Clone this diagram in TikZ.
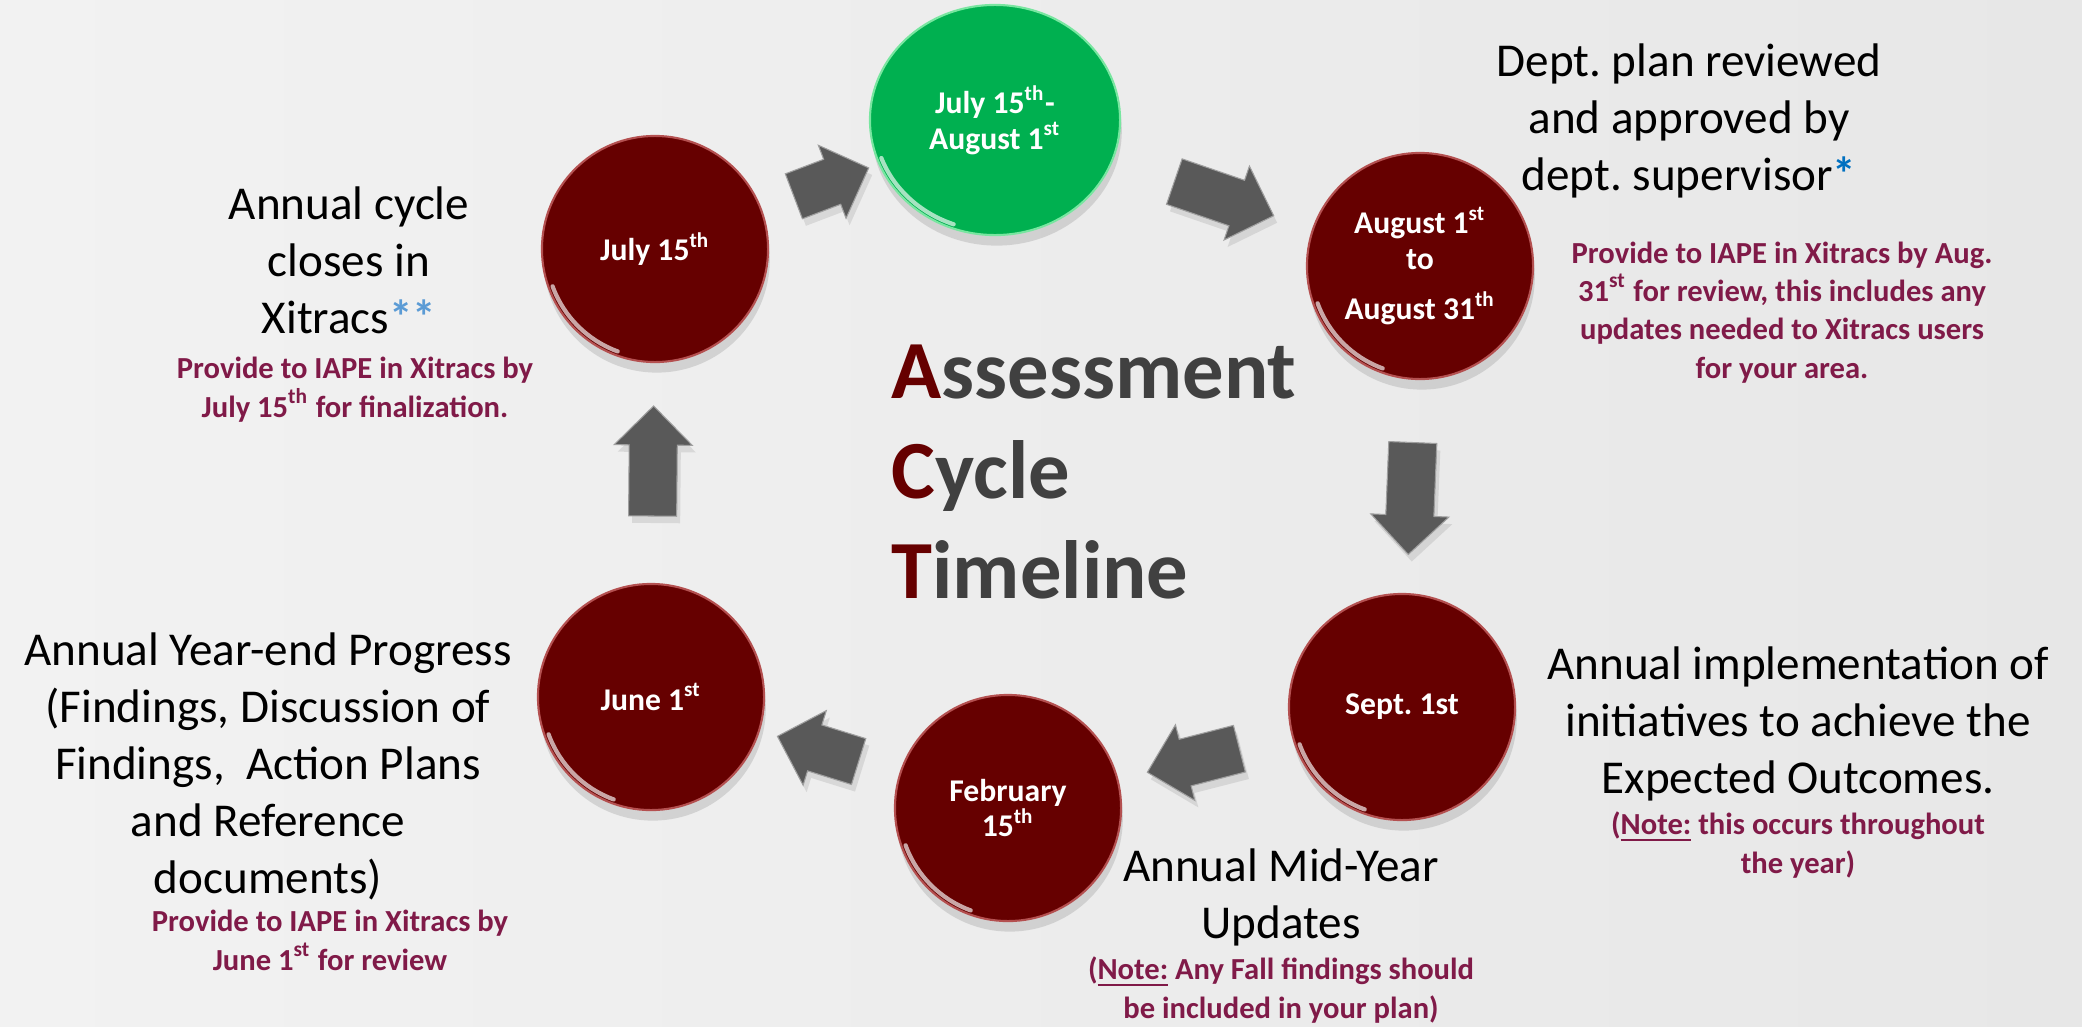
\documentclass[tikz,border=0pt]{standalone}
\usepackage{fontspec}
\setmainfont{Carlito}
\frenchspacing
\usetikzlibrary{shapes.arrows,shapes.geometric,shadows,positioning}

\definecolor{bgleft}{RGB}{242,242,242}
\definecolor{bgright}{RGB}{231,231,231}
\definecolor{datered}{RGB}{102,0,0}
\definecolor{rimred}{RGB}{180,80,80}
\definecolor{nowgreen}{RGB}{0,176,80}
\definecolor{nowrim}{RGB}{120,230,160}
\definecolor{arrowgray}{RGB}{89,89,89}
\definecolor{notepurple}{RGB}{128,26,72}
\definecolor{titlegray}{RGB}{64,64,64}
\definecolor{starblue}{RGB}{0,112,192}
\definecolor{starlight}{RGB}{91,155,213}

\newcommand{\descfont}{\fontsize{13.4}{16.2}\selectfont}
\newcommand{\notefont}{\fontsize{8.7}{10.9}\selectfont\bfseries}
\newcommand{\datefont}{\fontsize{9}{10.2}\selectfont\bfseries}
\newcommand{\titlefont}{\fontsize{23.5}{28.3}\selectfont\bfseries}

\tikzset{
  datebubble/.style={circle, fill=datered, draw=rimred, line width=0.6pt,
    minimum size=2.26cm, align=center, text=white, font=\datefont,
    drop shadow={opacity=0.25, shadow xshift=0.5pt, shadow yshift=-3pt}},
  nowbubble/.style={ellipse, fill=nowgreen, draw=nowrim, line width=0.6pt,
    minimum width=2.5cm, minimum height=2.3cm, align=center, text=white, font=\datefont,
    drop shadow={opacity=0.25, shadow xshift=0.5pt, shadow yshift=-3pt}},
  flowarrow/.style={single arrow, fill=arrowgray, draw=gray!75, line width=0.3pt,
    inner xsep=0pt, inner ysep=0.235cm, single arrow head extend=0.15cm,
    minimum width=0.77cm, sloped, allow upside down,
    drop shadow={opacity=0.2, shadow xshift=1pt, shadow yshift=-2pt}},
  desc/.style={align=center, font=\descfont, anchor=base, inner sep=0pt},
  note/.style={align=center, font=\notefont, text=notepurple, anchor=base, inner sep=0pt},
  rimlight/.style={white, opacity=0.65, line width=1.2pt, line cap=round},
}

% light glint on the lower left rim of a bubble
\newcommand{\rimglint}[2]{%
  \draw[rimlight] ([shift={(200:#2)}]#1.center) arc[start angle=200, end angle=250, radius=#2];}

\begin{document}
\begin{tikzpicture}[x=0.01cm,y=0.01cm]
  \useasboundingbox (0,0) rectangle (2082,1026);
  \shade[left color=bgleft, right color=bgright] (0,0) rectangle (2082,1026);
  %
  % We start by placing the date bubbles
  \node [nowbubble] (green) at (995,906) {July 15\textsuperscript{th}-\\August 1\textsuperscript{st}};
  \node [datebubble] (aug) at (1420,760) {August 1\textsuperscript{st}\\to\\[4pt]August 31\textsuperscript{th}};
  \node [datebubble] (sept) at (1402,319) {Sept. 1st};
  \node [datebubble] (feb) at (1008,218) {February\\15\textsuperscript{th}};
  \node [datebubble] (june) at (651,329) {June 1\textsuperscript{st}};
  \node [datebubble] (july) at (655,777) {July 15\textsuperscript{th}};
  \draw[rimlight] ([shift={(200:121 and 111)}]green.center) arc[start angle=200, end angle=250, x radius=121, y radius=111];
  \rimglint{aug}{109}
  \rimglint{sept}{109}
  \rimglint{feb}{109}
  \rimglint{june}{109}
  \rimglint{july}{109}
  %
  % Block arrows sit half way between two bubbles
  \path (july) -- node [flowarrow, minimum height=0.8cm] (a1) {} (green);
  \path (green) -- node [flowarrow, minimum height=1.05cm] (a2) {} (aug);
  \path (aug) -- node [flowarrow, minimum height=1.12cm] (a3) {} (sept);
  \path (sept) -- node [flowarrow, minimum height=0.95cm] (a4) {} (feb);
  \path (feb) -- node [flowarrow, minimum height=0.85cm] (a5) {} (june);
  \path (june) -- node [flowarrow, minimum height=1.1cm] (a6) {} (july);
  %
  % Title in the middle (base = last line)
  \node [anchor=base west, align=left, inner sep=0pt, font=\titlefont, text=titlegray] (title) at (891,428)
    {\textcolor{datered}{A}ssessment\\\textcolor{datered}{C}ycle\\\textcolor{datered}{T}imeline};
  %
  % Descriptions and notes next to each step
  \node [desc] (review) at (1689,836) {Dept. plan reviewed\\and approved by\\dept. supervisor\textcolor{starblue}{\textbf{*}}};
  \node [note] (augnote) at (1782,648) {Provide to IAPE in Xitracs by Aug.\\31\textsuperscript{st} for review, this includes any\\updates needed to Xitracs users\\for your area.};
  \node [desc] (closes) at (349,693) {Annual cycle\\closes in\\Xitracs\textcolor{starlight}{\textbf{**}}};
  \node [note] (julynote) at (355,609) {Provide to IAPE in Xitracs by\\July 15\textsuperscript{th} for finalization.};
  \node [desc] (yearend) at (268,133) {Annual Year-end Progress\\(Findings, Discussion of\\Findings, \ Action Plans\\and Reference\\documents)};
  \node [note] (junenote) at (330,56) {Provide to IAPE in Xitracs by\\June 1\textsuperscript{st} for review};
  \node [desc] (implement) at (1798,233) {Annual implementation of\\initiatives to achieve the\\Expected Outcomes.};
  \node [note] (implnote) at (1798,153) {(\underline{Note:} this occurs throughout\\the year)};
  \node [desc] (midyear) at (1281,88) {Annual Mid-Year\\Updates};
  \node [note] (midnote) at (1281,8) {(\underline{Note:} Any Fall findings should\\be included in your plan)};
  %
\end{tikzpicture}
\end{document}
